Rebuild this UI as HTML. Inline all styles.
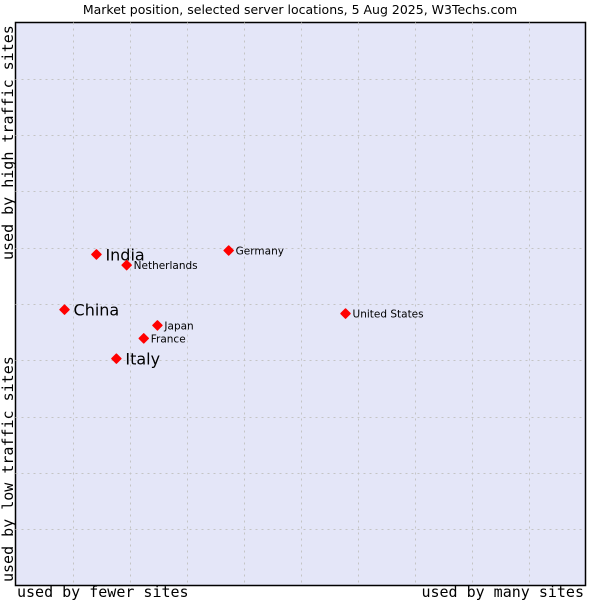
<!DOCTYPE html>
<html><head><meta charset="utf-8"><style>
body{margin:0;background:#fff;width:600px;height:600px;overflow:hidden}
svg{display:block}
</style></head><body>
<svg width="600" height="600">
<text x="300" y="14" text-anchor="middle" font-family="DejaVu Sans, sans-serif" font-size="12.5" fill="#000">Market position, selected server locations, 5 Aug 2025, W3Techs.com</text>
<rect x="15.5" y="22.5" width="570" height="563" fill="#e4e6f8" stroke="#000" stroke-width="1.5"/>
<g id="grid"></g>
<g id="pts"></g>
<text x="17" y="597" font-family="DejaVu Sans Mono, monospace" font-size="15">used by fewer sites</text>
<text x="584" y="597" text-anchor="end" font-family="DejaVu Sans Mono, monospace" font-size="15">used by many sites</text>
<text transform="translate(13,260) rotate(-90)" font-family="DejaVu Sans Mono, monospace" font-size="15">used by high traffic sites</text>
<text transform="translate(13,582) rotate(-90)" font-family="DejaVu Sans Mono, monospace" font-size="15">used by low traffic sites</text>
</svg>
<script>
const countries=["India","Netherlands","Germany","China","Japan","France","Italy","United States"];
const xValues=[1.42,1.95,3.74,0.86,2.49,2.25,1.77,5.79];
const yValues=[5.88,5.69,5.95,4.9,4.62,4.39,4.03,4.83];
const labelBig=[true,false,false,true,false,false,true,false];
const X0=15.5,X1=585.5,Y0=585.5,Y1=22.5;
const sx=v=>X0+v/10*(X1-X0), sy=v=>Y0-v/10*(Y0-Y1);
const ns="http://www.w3.org/2000/svg";
const grid=document.getElementById('grid'), pts=document.getElementById('pts');
for(let i=1;i<10;i++){
 const v=document.createElementNS(ns,'line');
 v.setAttribute('x1',Math.round(sx(i))+0.5);v.setAttribute('x2',Math.round(sx(i))+0.5);
 v.setAttribute('y1',Y1);v.setAttribute('y2',Y0);
 v.setAttribute('stroke','#c4c4c4');v.setAttribute('stroke-dasharray','2,4');
 
 
 grid.appendChild(v);
 const h=document.createElementNS(ns,'line');
 h.setAttribute('y1',Math.round(sy(i))+0.5);h.setAttribute('y2',Math.round(sy(i))+0.5);
 h.setAttribute('x1',X0);h.setAttribute('x2',X1);
 h.setAttribute('stroke','#c4c4c4');h.setAttribute('stroke-dasharray','2,4');
 
 
 grid.appendChild(h);
}
countries.forEach((c,i)=>{
 const x=sx(xValues[i]),y=sy(yValues[i]);
 const m=document.createElementNS(ns,'path');
 m.setAttribute('d',`M${x},${y-4.5}L${x+4.5},${y}L${x},${y+4.5}L${x-4.5},${y}Z`);
 m.setAttribute('fill','#f00');m.setAttribute('stroke','#f00');m.setAttribute('stroke-linejoin','round');m.setAttribute('stroke-width','1.5');
 
 
 pts.appendChild(m);
 const t=document.createElementNS(ns,'text');
 t.setAttribute('x',x+(labelBig[i]?9:7));t.setAttribute('y',y+(labelBig[i]?6:4));
 t.setAttribute('font-family','DejaVu Sans, sans-serif');
 t.setAttribute('font-size',labelBig[i]?'16':'10.5');
 t.textContent=c;
 
 
 pts.appendChild(t);
});
</script>
</body></html>
